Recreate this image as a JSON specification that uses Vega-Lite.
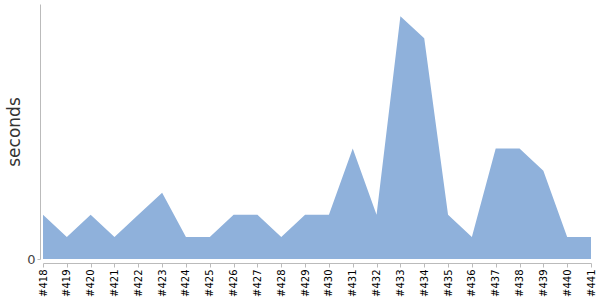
{
  "$schema": "https://vega.github.io/schema/vega-lite/v6.json",
  "autosize": "none",
  "width": 548,
  "height": 255,
  "padding": {"left": 43, "top": 4, "right": 9, "bottom": 41},
  "background": "white",
  "config": {"view": {"stroke": null}, "font": "DejaVu Sans", "axis": {"labelFont": "DejaVu Sans", "titleFont": "DejaVu Sans"}},
  "data": {"values": [
    {"build": "#418", "seconds": 2},
    {"build": "#419", "seconds": 1},
    {"build": "#420", "seconds": 2},
    {"build": "#421", "seconds": 1},
    {"build": "#422", "seconds": 2},
    {"build": "#423", "seconds": 3},
    {"build": "#424", "seconds": 1},
    {"build": "#425", "seconds": 1},
    {"build": "#426", "seconds": 2},
    {"build": "#427", "seconds": 2},
    {"build": "#428", "seconds": 1},
    {"build": "#429", "seconds": 2},
    {"build": "#430", "seconds": 2},
    {"build": "#431", "seconds": 5},
    {"build": "#432", "seconds": 2},
    {"build": "#433", "seconds": 11},
    {"build": "#434", "seconds": 10},
    {"build": "#435", "seconds": 2},
    {"build": "#436", "seconds": 1},
    {"build": "#437", "seconds": 5},
    {"build": "#438", "seconds": 5},
    {"build": "#439", "seconds": 4},
    {"build": "#440", "seconds": 1},
    {"build": "#441", "seconds": 1}
  ]},
  "mark": {"type": "area", "color": "#8fb1db", "opacity": 1},
  "encoding": {
    "x": {
      "field": "build", "type": "ordinal",
      "scale": {"type": "point", "padding": 0},
      "axis": {
        "title": null, "labelAngle": -90, "labelFontSize": 10, "labelColor": "#000",
        "domainColor": "#bbb", "tickColor": "#bbb", "tickSize": 4, "offset": 4,
        "labelPadding": 2, "grid": false
      }
    },
    "y": {
      "field": "seconds", "type": "quantitative",
      "scale": {"domain": [0, 11.55], "nice": false},
      "axis": {
        "title": "seconds", "titleFontSize": 17, "titleFontWeight": "normal", "titleColor": "#333",
        "titlePadding": 3, "values": [0], "labelFontSize": 13, "labelColor": "#444",
        "domainColor": "#bbb", "tickColor": "#bbb", "tickSize": 3, "offset": 3, "grid": false
      }
    }
  }
}
